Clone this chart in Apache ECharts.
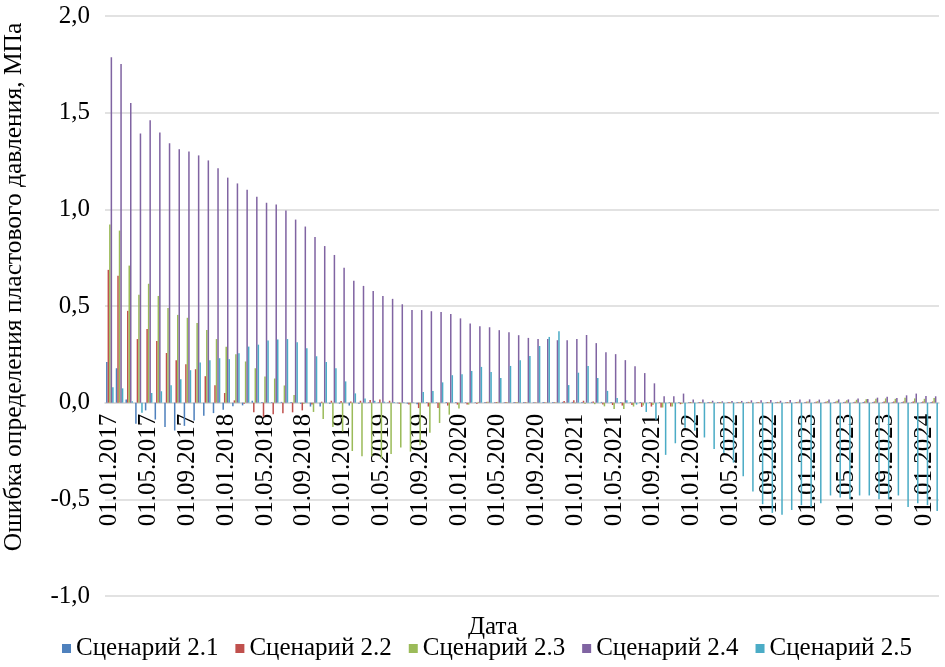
<!DOCTYPE html>
<html>
<head>
<meta charset="utf-8">
<script src="https://cdn.jsdelivr.net/npm/echarts@6/dist/echarts.min.js"></script>
<style>
    html, body { margin: 0; padding: 0; background: #fff; }
    #chart { width: 945px; height: 667px; }
</style>
</head>
<body>
<div id="chart"></div>
<script>
// monthly dates, Jan 2017 .. Feb 2024
var dates = [
    '01.01.2017', '01.02.2017', '01.03.2017', '01.04.2017', '01.05.2017', '01.06.2017', '01.07.2017', '01.08.2017', '01.09.2017', '01.10.2017', '01.11.2017', '01.12.2017',
    '01.01.2018', '01.02.2018', '01.03.2018', '01.04.2018', '01.05.2018', '01.06.2018', '01.07.2018', '01.08.2018', '01.09.2018', '01.10.2018', '01.11.2018', '01.12.2018',
    '01.01.2019', '01.02.2019', '01.03.2019', '01.04.2019', '01.05.2019', '01.06.2019', '01.07.2019', '01.08.2019', '01.09.2019', '01.10.2019', '01.11.2019', '01.12.2019',
    '01.01.2020', '01.02.2020', '01.03.2020', '01.04.2020', '01.05.2020', '01.06.2020', '01.07.2020', '01.08.2020', '01.09.2020', '01.10.2020', '01.11.2020', '01.12.2020',
    '01.01.2021', '01.02.2021', '01.03.2021', '01.04.2021', '01.05.2021', '01.06.2021', '01.07.2021', '01.08.2021', '01.09.2021', '01.10.2021', '01.11.2021', '01.12.2021',
    '01.01.2022', '01.02.2022', '01.03.2022', '01.04.2022', '01.05.2022', '01.06.2022', '01.07.2022', '01.08.2022', '01.09.2022', '01.10.2022', '01.11.2022', '01.12.2022',
    '01.01.2023', '01.02.2023', '01.03.2023', '01.04.2023', '01.05.2023', '01.06.2023', '01.07.2023', '01.08.2023', '01.09.2023', '01.10.2023', '01.11.2023', '01.12.2023',
    '01.01.2024', '01.02.2024'
];

var names = ['Сценарий 2.1', 'Сценарий 2.2', 'Сценарий 2.3', 'Сценарий 2.4', 'Сценарий 2.5'];
var colors = ['#4F81BD', '#C0504D', '#9BBB59', '#8064A2', '#4BACC6'];

var s21 = [
    0.21, 0.178, 0.017, -0.109, -0.04, -0.087, -0.126, -0.144, -0.12, -0.092, -0.068, -0.054,
    -0.036, -0.019, -0.014, 0.01, 0.004, 0.003, 0.004, 0.003, -0.005, -0.02, -0.02, -0.005,
    -0.005, -0.015, -0.005, 0.003, 0.003, 0.002, -0.003, -0.005, -0.008, 0.003, 0.003, 0.003,
    0.003, 0.003, 0.003, 0.003, 0.003, 0.003, 0.003, 0.003, 0.003, 0.003, 0.004, 0.004,
    0.004, 0.004, 0.004, 0.004, 0.004, 0.004, 0.004, 0.004, 0.004, 0.003, 0.003, 0.003,
    0.003, 0.003, 0.003, 0.003, 0.003, 0.003, 0.003, 0.003, 0.003, 0.003, 0.003, 0.003,
    0.003, 0.003, 0.003, 0.003, 0.003, 0.003, 0.003, 0.003, 0.003, 0.003, 0.003, 0.003,
    0.003, 0.003
];
var s22 = [
    0.687, 0.656, 0.475, 0.329, 0.381, 0.319, 0.257, 0.22, 0.199, 0.173, 0.137, 0.09,
    0.05, 0.012, -0.005, -0.05, -0.075, -0.06, -0.055, -0.05, -0.04, -0.01, 0.005, 0.01,
    0.008, 0.006, 0.01, 0.014, 0.016, 0.01, -0.005, -0.01, -0.028, -0.02, -0.028, -0.015,
    -0.01, -0.01, -0.005, 0.004, 0.003, 0.003, 0.003, 0.003, 0.002, 0.003, 0.003, 0.008,
    0.012, 0.01, 0.006, -0.01, -0.012, -0.015, -0.012, -0.022, -0.02, -0.025, -0.02, -0.008,
    0.003, 0.003, 0.003, 0.003, 0.003, 0.003, 0.004, 0.004, 0.004, 0.004, 0.004, 0.004,
    0.005, 0.005, 0.005, 0.005, 0.005, 0.005, 0.006, 0.006, 0.006, 0.006, 0.006, 0.006,
    0.006, 0.006
];
var s23 = [
    0.921, 0.89, 0.709, 0.558, 0.615, 0.552, 0.49, 0.454, 0.439, 0.412, 0.376, 0.329,
    0.289, 0.251, 0.213, 0.178, 0.135, 0.125, 0.089, 0.04, -0.005, -0.048, -0.085, -0.126,
    -0.15, -0.25, -0.277, -0.277, -0.29, -0.266, -0.232, -0.253, -0.22, -0.155, -0.105, -0.062,
    -0.03, -0.01, 0.004, 0.005, 0.004, 0.003, 0.003, 0.002, 0.002, 0.002, 0.002, -0.002,
    -0.003, -0.005, -0.008, -0.019, -0.033, -0.033, -0.02, -0.015, -0.012, -0.025, -0.02, -0.005,
    0.003, 0.003, 0.003, 0.003, 0.003, 0.003, 0.003, 0.003, 0.003, 0.003, 0.003, 0.005,
    0.006, 0.007, 0.008, 0.01, 0.012, 0.015, 0.018, 0.02, 0.022, 0.02, 0.025, 0.022,
    0.02, 0.024
];
var s24 = [
    1.787, 1.752, 1.55, 1.392, 1.461, 1.397, 1.342, 1.311, 1.299, 1.279, 1.253, 1.212,
    1.164, 1.134, 1.101, 1.065, 1.034, 1.025, 0.994, 0.947, 0.911, 0.857, 0.81, 0.764,
    0.698, 0.63, 0.604, 0.578, 0.552, 0.537, 0.509, 0.479, 0.479, 0.473, 0.469, 0.459,
    0.436, 0.41, 0.395, 0.39, 0.375, 0.364, 0.349, 0.335, 0.329, 0.329, 0.323, 0.323,
    0.329, 0.35, 0.308, 0.261, 0.251, 0.22, 0.189, 0.153, 0.1, 0.033, 0.033, 0.047,
    0.016, 0.016, 0.01, 0.007, 0.009, 0.009, 0.012, 0.012, 0.014, 0.01, 0.014, 0.017,
    0.017, 0.016, 0.016, 0.017, 0.017, 0.021, 0.019, 0.026, 0.03, 0.024, 0.038, 0.047,
    0.034, 0.033
];
var s25 = [
    0.08, 0.074, 0.007, -0.052, 0.05, 0.059, 0.09, 0.121, 0.168, 0.208, 0.22, 0.23,
    0.225, 0.255, 0.29, 0.3, 0.322, 0.327, 0.329, 0.312, 0.282, 0.24, 0.21, 0.178,
    0.11, 0.048, 0.022, 0.01, 0.005, 0.003, 0.002, 0.002, 0.055, 0.06, 0.105, 0.142,
    0.147, 0.164, 0.185, 0.158, 0.127, 0.19, 0.22, 0.241, 0.293, 0.34, 0.37, 0.091,
    0.155, 0.19, 0.128, 0.061, 0.024, 0.013, -0.01, -0.048, -0.088, -0.27, -0.21, -0.13,
    -0.145, -0.18, -0.24, -0.26, -0.31, -0.38, -0.46, -0.525, -0.57, -0.58, -0.555, -0.53,
    -0.54, -0.52, -0.48, -0.49, -0.5, -0.48, -0.48, -0.5, -0.5, -0.48, -0.54, -0.52,
    -0.53, -0.56
];

var yTicks = { min: -1, max: 2, step: 0.5 };
var FONT = 'Liberation Serif';

;
(function() {
    var chart = echarts.init(document.getElementById('chart'));
    var all = [s21, s22, s23, s24, s25];
    var series = [];
    for (var i = 0; i < all.length; i++) {
        series.push({
            name: names[i],
            type: 'bar',
            data: all[i],
            barGap: '0%',
            barCategoryGap: '22%',
            itemStyle: { color: colors[i] }
        });
    }

    var gridTop = 16, gridBottom = 71;
    var plotH = 667 - gridTop - gridBottom;
    // move the category axis up to the 0 line (range -1..2)
    var zeroShift = plotH * (0 - yTicks.min) / (yTicks.max - yTicks.min);

    chart.setOption({
        animation: false,
        color: colors,
        textStyle: { fontFamily: FONT },
        grid: { left: 105, right: 6, top: gridTop, bottom: gridBottom, containLabel: false, outerBoundsMode: 'none' },
        legend: {
            data: names,
            left: 57,
            width: 885,
            bottom: 1,
            icon: 'rect',
            itemWidth: 9,
            itemHeight: 9,
            itemGap: 17,
            textStyle: { fontFamily: FONT, fontSize: 25, color: '#000' }
        },
        graphic: [{
            type: 'text',
            left: 468,
            top: 615,
            style: { text: 'Дата', font: '25px "Liberation Serif"', fill: '#000' }
        }],
        xAxis: {
            type: 'category',
            data: dates,
            offset: -zeroShift,
            axisLine: { onZero: false, lineStyle: { color: '#d9d9d9', width: 1.5 } },
            axisTick: { show: false },
            axisLabel: {
                interval: 3,
                rotate: 90,
                margin: 11,
                fontFamily: FONT,
                fontSize: 25,
                color: '#000'
            }
        },
        yAxis: {
            type: 'value',
            min: yTicks.min,
            max: yTicks.max,
            interval: yTicks.step,
            name: 'Ошибка определения пластового давления, МПа',
            nameLocation: 'middle',
            nameGap: 78,
            nameTextStyle: { fontFamily: FONT, fontSize: 25.5, color: '#000', padding: [0, 0, 0, 38] },
            axisLine: { show: false },
            axisTick: { show: false },
            splitLine: { lineStyle: { color: '#d9d9d9', width: 1.5 } },
            axisLabel: {
                margin: 15,
                fontFamily: FONT,
                fontSize: 25,
                color: '#000',
                formatter: function(v) {
                    return v.toFixed(1).replace('.', ',');
                }
            }
        },
        series: series
    });
})();
</script>
</body>
</html>
